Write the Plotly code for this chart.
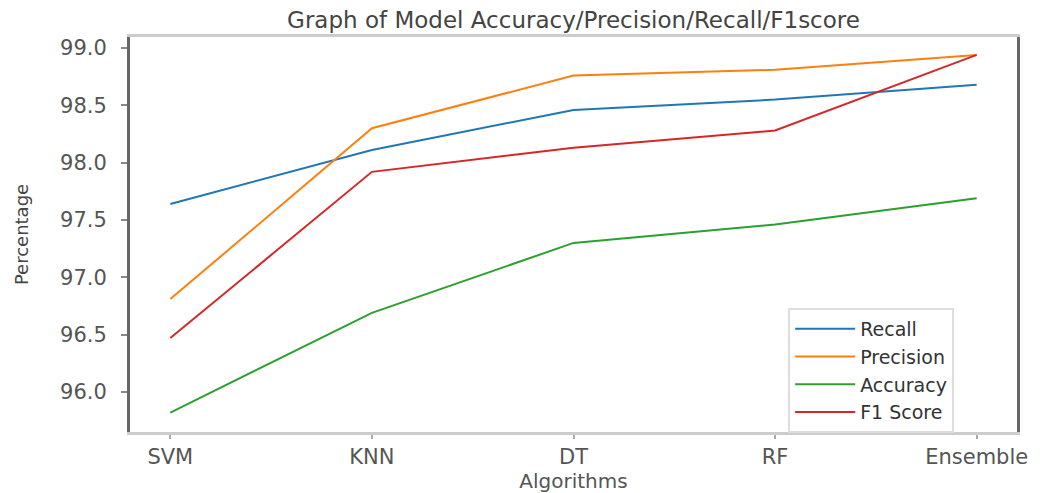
import plotly.graph_objects as go

algorithms = ["SVM", "KNN", "DT", "RF", "Ensemble"]
recall = [97.64, 98.11, 98.46, 98.55, 98.68]
precision = [96.81, 98.30, 98.76, 98.81, 98.94]
accuracy = [95.82, 96.69, 97.30, 97.46, 97.69]
f1_score = [96.47, 97.92, 98.13, 98.28, 98.94]

series_names = ["Recall", "Precision", "Accuracy", "F1 Score"]
series_values = [recall, precision, accuracy, f1_score]
colors = ["#1f77b4", "#ff7f0e", "#2ca02c", "#d62728"]

FONT = "DejaVu Sans"

fig = go.Figure()
for name, vals, c in zip(series_names, series_values, colors):
    fig.add_trace(go.Scatter(
        x=list(range(len(algorithms))), y=vals, mode="lines", name=name,
        line=dict(color=c, width=2),
    ))

# page body has an 8px margin, so the figure sits at (8, 8) in the window
fig.update_layout(
    width=1036, height=485,
    margin=dict(l=122, r=27, t=29, b=61, autoexpand=False),
    paper_bgcolor="white", plot_bgcolor="white",
    font=dict(family=FONT, color="#555555"),
    title=dict(text="Graph of Model Accuracy/Precision/Recall/F1score",
               x=0.5, xref="paper", xanchor="center", y=0.991, yanchor="top",
               pad=dict(t=0, b=0),
               font=dict(size=23, color="#444444", family=FONT)),
    showlegend=True,
    legend=dict(x=0.742, y=0.314, xanchor="left", yanchor="top",
                bgcolor="white", bordercolor="#dddddd", borderwidth=2,
                font=dict(size=19, color="#333333", family=FONT),
                itemwidth=60, tracegroupgap=0),
)

fig.update_xaxes(
    range=[-0.2, 4.2], automargin=False,
    tickmode="array", tickvals=list(range(len(algorithms))), ticktext=algorithms,
    showgrid=False, zeroline=False,
    showline=True, linecolor="#cccccc", linewidth=3, mirror=True,
    ticks="outside", ticklen=4, tickcolor="#aaaaaa", tickwidth=2,
    tickfont=dict(size=21, color="#555555", family=FONT),
    title=dict(text="Algorithms", font=dict(size=20, color="#555555", family=FONT), standoff=2),
)
fig.update_yaxes(
    range=[95.651, 99.096], automargin=False,
    tickmode="array", tickvals=[96.0, 96.5, 97.0, 97.5, 98.0, 98.5, 99.0],
    ticktext=["96.0", "96.5", "97.0", "97.5", "98.0", "98.5", "99.0"],
    showgrid=False, zeroline=False,
    showline=True, linecolor="#666666", linewidth=3, mirror=True,
    ticks="outside", ticklen=6, tickcolor="#888888", tickwidth=2,
    ticklabelstandoff=10,
    tickfont=dict(size=21, color="#555555", family=FONT),
    title=dict(text="Percentage", font=dict(size=18, color="#444444", family=FONT), standoff=27),
)

fig.write_html("out.html")
